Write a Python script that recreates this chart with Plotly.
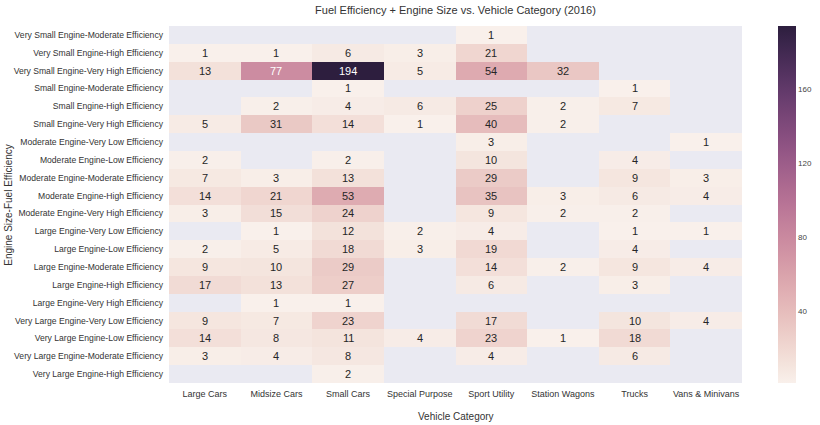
import numpy as np
import plotly.graph_objects as go

title = "Fuel Efficiency + Engine Size vs. Vehicle Category (2016)"
categories = ["Large Cars", "Midsize Cars", "Small Cars", "Special Purpose",
              "Sport Utility", "Station Wagons", "Trucks", "Vans & Minivans"]
rows = [
    "Very Small Engine-Moderate Efficiency",
    "Very Small Engine-High Efficiency",
    "Very Small Engine-Very High Efficiency",
    "Small Engine-Moderate Efficiency",
    "Small Engine-High Efficiency",
    "Small Engine-Very High Efficiency",
    "Moderate Engine-Very Low Efficiency",
    "Moderate Engine-Low Efficiency",
    "Moderate Engine-Moderate Efficiency",
    "Moderate Engine-High Efficiency",
    "Moderate Engine-Very High Efficiency",
    "Large Engine-Very Low Efficiency",
    "Large Engine-Low Efficiency",
    "Large Engine-Moderate Efficiency",
    "Large Engine-High Efficiency",
    "Large Engine-Very High Efficiency",
    "Very Large Engine-Very Low Efficiency",
    "Very Large Engine-Low Efficiency",
    "Very Large Engine-Moderate Efficiency",
    "Very Large Engine-High Efficiency",
]
N = None
counts = [
    [N, N, N, N, 1, N, N, N],
    [1, 1, 6, 3, 21, N, N, N],
    [13, 77, 194, 5, 54, 32, N, N],
    [N, N, 1, N, N, N, 1, N],
    [N, 2, 4, 6, 25, 2, 7, N],
    [5, 31, 14, 1, 40, 2, N, N],
    [N, N, N, N, 3, N, N, 1],
    [2, N, 2, N, 10, N, 4, N],
    [7, 3, 13, N, 29, N, 9, 3],
    [14, 21, 53, N, 35, 3, 6, 4],
    [3, 15, 24, N, 9, 2, 2, N],
    [N, 1, 12, 2, 4, N, 1, 1],
    [2, 5, 18, 3, 19, N, 4, N],
    [9, 10, 29, N, 14, 2, 9, 4],
    [17, 13, 27, N, 6, N, 3, N],
    [N, 1, 1, N, N, N, N, N],
    [9, 7, 23, N, 17, N, 10, 4],
    [14, 8, 11, 4, 23, 1, 18, N],
    [3, 4, 8, N, 4, N, 6, N],
    [N, N, 2, N, N, N, N, N],
]
cbar_ticks = [40, 80, 120, 160]

FONT = "Liberation Sans, Arial"
LIGHT, DARK = 0.95, 0.15

# cubehelix palette (start=0, rot=0.4, hue=0.8)
def cubehelix(x, gamma=1.0, s=0.0, r=0.4, h=0.8):
    xg = x ** gamma
    a = h * xg * (1 - xg) / 2
    phi = 2 * np.pi * (s / 3 + r * x)
    def ch(p0, p1):
        return np.clip(xg + a * (p0 * np.cos(phi) + p1 * np.sin(phi)), 0, 1)
    return ch(-0.14861, 1.78277), ch(-0.29227, -0.90649), ch(1.97294, 0.0)

n = 21
pos = np.linspace(0, 1, n)
lam = LIGHT + (DARK - LIGHT) * pos
R, G, B = cubehelix(lam)
colorscale = [[float(p), f"rgb({int(round(r*255))},{int(round(g*255))},{int(round(b*255))})"]
              for p, r, g, b in zip(pos, R, G, B)]

zmin, zmax = 1, 194

def lum(v):
    t = (v - zmin) / (zmax - zmin)
    l = LIGHT + (DARK - LIGHT) * t
    r, g, b = [float(c) for c in cubehelix(np.array(l))]
    def lin(c):
        return c / 12.92 if c <= 0.03928 else ((c + 0.055) / 1.055) ** 2.4
    return 0.2126 * lin(r) + 0.7152 * lin(g) + 0.0722 * lin(b)

fig = go.Figure(go.Heatmap(
    z=counts, x=categories, y=rows,
    colorscale=colorscale, zmin=zmin, zmax=zmax,
    xgap=0, ygap=0, hoverongaps=False,
    colorbar=dict(
        x=1.0628, xanchor="left", xpad=0, y=0.5, yanchor="middle", len=1.0, ypad=0,
        thickness=18, outlinewidth=0, ticks="", tickvals=cbar_ticks,
        tickfont=dict(size=8, color="#444444", family=FONT),
    ),
))

annotations = []
for i, rname in enumerate(rows):
    for j, cname in enumerate(categories):
        v = counts[i][j]
        if v is None:
            continue
        col = "#262626" if lum(v) > 0.408 else "white"
        annotations.append(dict(x=cname, y=rname, text=str(v), showarrow=False,
                                font=dict(size=11, color=col, family=FONT)))

annotations.append(dict(text="Vehicle Category", xref="paper", yref="paper",
                        x=0.5, y=-0.072, yanchor="top", xanchor="center", showarrow=False,
                        font=dict(size=10, color="#333333", family=FONT)))
annotations.append(dict(text="Engine Size-Fuel Efficiency", xref="paper", yref="paper",
                        x=-0.2805, xanchor="center", y=0.5, yanchor="middle", textangle=-90,
                        showarrow=False,
                        font=dict(size=10, color="#333333", family=FONT)))

fig.update_layout(
    width=820, height=425,
    margin=dict(l=169, r=78, t=26, b=42, autoexpand=False),
    paper_bgcolor="white", plot_bgcolor="#EAEAF2",
    title=dict(text=title, x=0.5, xref="paper", y=0.985, yanchor="top",
               font=dict(size=11, color="#333333", family=FONT)),
    annotations=annotations,
    font=dict(family=FONT, color="#333333"),
)
fig.update_xaxes(showgrid=False, zeroline=False, ticks="", tickfont=dict(size=9),
                 showline=False, ticklabelstandoff=4)
fig.update_yaxes(showgrid=False, zeroline=False, ticks="", tickfont=dict(size=8.6),
                 autorange="reversed", showline=False, ticklabelstandoff=5)

fig.write_html("out.html")
